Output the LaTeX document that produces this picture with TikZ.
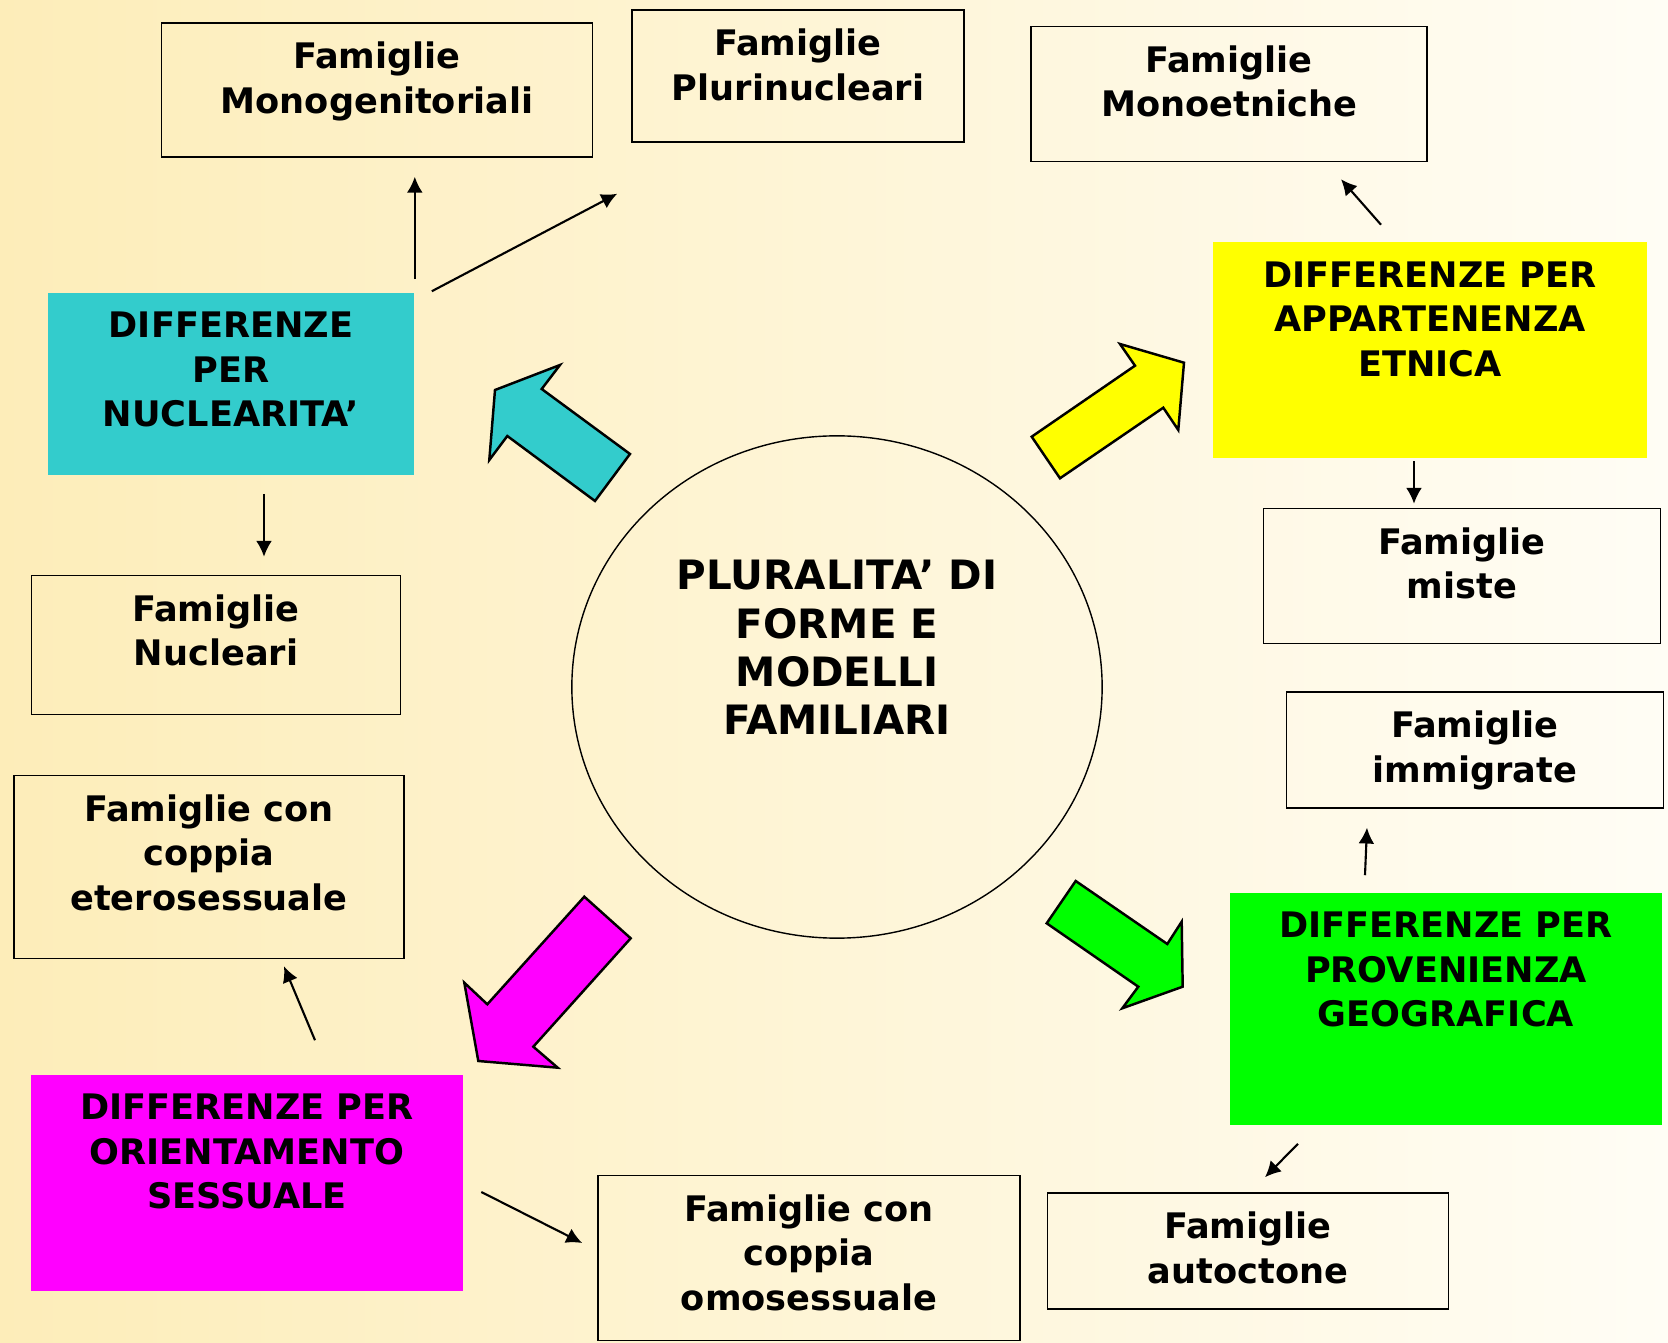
\documentclass[tikz,border=0pt]{standalone}
\usepackage{fontspec}
\setmainfont{DejaVu Sans}
\usetikzlibrary{arrows.meta}
\usetikzlibrary{positioning}
\usetikzlibrary{shapes.geometric}
\tikzset{>={Latex[length=4.5pt,width=4.5pt]}, line width=0.5pt}
\definecolor{bgleft}{RGB}{253,237,185}
\definecolor{bgright}{RGB}{255,253,245}
\definecolor{nuccyan}{RGB}{51,204,204}
\definecolor{etnyellow}{RGB}{255,255,0}
\definecolor{geogreen}{RGB}{0,255,0}
\definecolor{sexmagenta}{RGB}{255,0,255}
\tikzset{
  fambox/.style={rectangle,draw,inner sep=0pt},
  diffbox/.style={rectangle,inner sep=0pt},
  famtext/.style={font=\bfseries\fontsize{10}{12.7}\selectfont,align=center,inner sep=0pt},
  blockarrow/.style={draw,line width=0.7pt,line join=miter},
  conn/.style={->,line width=0.6pt}
}

\begin{document}
\begin{tikzpicture}[x=0.01cm,y=-0.01cm]
  \useasboundingbox (0,0) rectangle (1668,1343);
  \shade[left color=bgleft,right color=bgright] (0,0) rectangle (1668,1343);

  % centre
  \node[ellipse,draw,inner sep=0pt,minimum width=5.30cm,minimum height=5.02cm] (core) at (837,687) {};
  \node[famtext,font=\bfseries\fontsize{11.5}{13.7}\selectfont,below=1.245cm of core.north] (core-t) {PLURALITA’ DI\\FORME E\\MODELLI\\FAMILIARI};

  % nuclearita
  \node[diffbox,fill=nuccyan,minimum width=3.66cm,minimum height=1.82cm] (nuc) at (231,384) {};
  \node[famtext,below=0.19cm of nuc.north] (nuc-t) {DIFFERENZE\\PER\\NUCLEARITA’};
  \node[fambox,minimum width=4.31cm,minimum height=1.34cm] (mgen) at (377,90) {};
  \node[famtext,below=0.19cm of mgen.north] (mgen-t) {Famiglie\\Monogenitoriali};
  \node[fambox,minimum width=3.32cm,minimum height=1.32cm] (plu) at (798,76) {};
  \node[famtext,below=0.19cm of plu.north] (plu-t) {Famiglie\\Plurinucleari};
  \node[fambox,minimum width=3.69cm,minimum height=1.39cm] (nucl) at (216,645) {};
  \node[famtext,below=0.19cm of nucl.north] (nucl-t) {Famiglie\\Nucleari};

  % appartenenza etnica
  \node[diffbox,fill=etnyellow,minimum width=4.33cm,minimum height=2.15cm] (app) at (1430,350) {};
  \node[famtext,below=0.19cm of app.north] (app-t) {DIFFERENZE PER\\APPARTENENZA\\ETNICA};
  \node[fambox,minimum width=3.96cm,minimum height=1.35cm] (mono) at (1229,94) {};
  \node[famtext,below=0.19cm of mono.north] (mono-t) {Famiglie\\Monoetniche};
  \node[fambox,minimum width=3.97cm,minimum height=1.35cm] (miste) at (1462,576) {};
  \node[famtext,below=0.19cm of miste.north] (miste-t) {Famiglie\\miste};

  % provenienza geografica
  \node[diffbox,fill=geogreen,minimum width=4.31cm,minimum height=2.32cm] (prov) at (1446,1009) {};
  \node[famtext,below=0.19cm of prov.north] (prov-t) {DIFFERENZE PER\\PROVENIENZA\\GEOGRAFICA};
  \node[fambox,minimum width=3.77cm,minimum height=1.16cm] (immi) at (1475,750) {};
  \node[famtext,below=0.19cm of immi.north] (immi-t) {Famiglie\\immigrate};
  \node[fambox,minimum width=4.01cm,minimum height=1.16cm] (auto) at (1248,1251) {};
  \node[famtext,below=0.19cm of auto.north] (auto-t) {Famiglie\\autoctone};

  % orientamento sessuale
  \node[diffbox,fill=sexmagenta,minimum width=4.31cm,minimum height=2.16cm] (orient) at (247,1183) {};
  \node[famtext,below=0.19cm of orient.north] (orient-t) {DIFFERENZE PER\\ORIENTAMENTO\\SESSUALE};
  \node[fambox,minimum width=3.90cm,minimum height=1.83cm] (etero) at (209,867) {};
  \node[famtext,below=0.19cm of etero.north] (etero-t) {Famiglie con\\coppia\\eterosessuale};
  \node[fambox,minimum width=4.22cm,minimum height=1.65cm] (omo) at (809,1258) {};
  \node[famtext,below=0.19cm of omo.north] (omo-t) {Famiglie con\\coppia\\omosessuale};

  % block arrows
  \draw[blockarrow,fill=nuccyan] (495,390) -- (560,365) -- (541.7,389) -- (630,454) -- (595,501) -- (507.3,436) -- (489.3,460) -- cycle;
  \draw[blockarrow,fill=etnyellow] (1184,362.7) -- (1178.3,430) -- (1163.3,407.7) -- (1060,478.3) -- (1031.7,436.7) -- (1135,365.7) -- (1120,344) -- cycle;
  \draw[blockarrow,fill=sexmagenta] (478.3,1061) -- (464.3,982.7) -- (487.3,1004.3) -- (584.3,896.7) -- (630.7,938.3) -- (533.3,1046.7) -- (557.7,1067.7) -- cycle;
  \draw[blockarrow,fill=geogreen] (1182.7,986.7) -- (1181.7,921.7) -- (1167.3,944) -- (1075.7,881) -- (1046.7,923.3) -- (1138.3,986.7) -- (1122.3,1008.3) -- cycle;

  % arrows
  \draw[conn,shorten <=0.13cm,shorten >=0.19cm] (nuc.north east) -- (nuc.north east |- mgen.south);
  \draw[conn] ([shift={(17,-1)}]nuc.north east) -- ([shift={(-14,51)}]plu.south west);
  \draw[conn] ([shift={(33,18)}]nuc.south) -- ([shift={(48,-18)}]nucl.north);
  \draw[conn] ([shift={(-49,-17)}]app.north) -- ([shift={(112,17)}]mono.south);
  \draw[conn] ([shift={(-16,3)}]app.south) -- ([shift={(-48,-4)}]miste.north);
  \draw[conn] ([shift={(-81,-17)}]prov.north) -- ([shift={(-108,19)}]immi.south);
  \draw[conn] ([shift={(-148,18)}]prov.south) -- ([shift={(17,-15)}]auto.north);
  \draw[conn] ([shift={(68,-34)}]orient.north) -- ([shift={(75,7)}]etero.south);
  \draw[conn] ([shift={(18,9)}]orient.east) -- ([shift={(-15,-15)}]omo.west);
\end{tikzpicture}
\end{document}
